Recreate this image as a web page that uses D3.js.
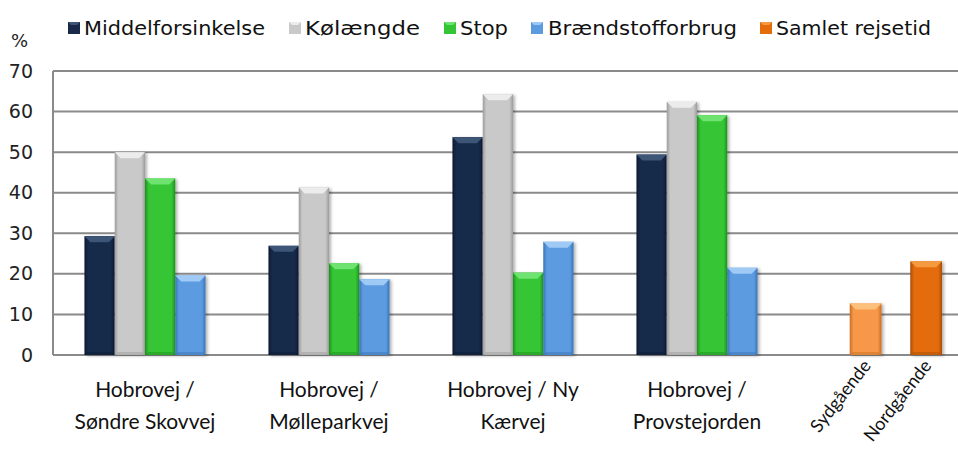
<!DOCTYPE html>
<html><head><meta charset="utf-8">
<script src="https://cdn.jsdelivr.net/npm/d3@7"></script>
<style>body{margin:0;background:#fff}svg{display:block}</style>
</head><body><svg id="c" width="958" height="450"></svg>
<script>
const categories = ["Hobrovej / Søndre Skovvej","Hobrovej / Mølleparkvej","Hobrovej / Ny Kærvej","Hobrovej / Provstejorden","Samlet rejsetid"];
const catLines = [["Hobrovej /","Søndre Skovvej"],["Hobrovej /","Mølleparkvej"],["Hobrovej / Ny","Kærvej"],["Hobrovej /","Provstejorden"]];
const seriesNames = ["Middelforsinkelse","Kølængde","Stop","Brændstofforbrug","Samlet rejsetid"];
const middelforsinkelse = [29.3, 26.9, 53.7, 49.4];
const kolaengde = [50.0, 41.3, 64.3, 62.4];
const stop = [43.5, 22.6, 20.3, 59.1];
const braendstof = [19.6, 18.7, 27.9, 21.5];
const rejseLabels = ["Sydgående","Nordgående"];
const rejsetid = [12.7, 23.1];
const yTicks = [0,10,20,30,40,50,60,70];

const colors = {
  "Middelforsinkelse": ["#18294a","#3d5677","#0c1a33"],
  "Kølængde": ["#c9c9c9","#ececec","#9c9c9c"],
  "Stop": ["#34c534","#6fe36f","#1f8f1f"],
  "Brændstofforbrug": ["#5c9be0","#9fcaf5","#3a73b5"],
  "Sydgående": ["#f7984a","#fcc07a","#c86e22"],
  "Nordgående": ["#e46c0a","#f59a40","#a84d05"]
};

const svg = d3.select("#c");
const y = d3.scaleLinear().domain([0,70]).range([355,71]);
const x0 = d3.scaleBand().domain(categories).range([53,973]).paddingInner(0.342).paddingOuter(0.171);
const x1 = d3.scaleBand().domain([0,1,2,3]).range([0,x0.bandwidth()]);

// gridlines
svg.append("g").selectAll("line").data(yTicks).join("line")
  .attr("x1",53).attr("x2",958).attr("y1",d=>y(d)).attr("y2",d=>y(d))
  .attr("stroke","#8a8a8a").attr("stroke-width",2);
svg.append("line").attr("x1",53).attr("x2",53).attr("y1",y(70)).attr("y2",y(0))
  .attr("stroke","#8a8a8a").attr("stroke-width",2);

// y axis labels
const yAxis = d3.axisLeft(y).tickValues(yTicks).tickSize(0).tickPadding(0);
const ya = svg.append("g").attr("transform","translate(33,0)").call(yAxis);
ya.select(".domain").remove();
ya.selectAll("text").attr("font-family","'DejaVu Sans', sans-serif").attr("font-size",19).attr("fill","#222");
svg.append("text").attr("x",11).attr("y",47).text("%").attr("font-family","'DejaVu Sans', sans-serif").attr("font-size",18).attr("fill","#222");

// bars
const bars = [];
const sers = [middelforsinkelse,kolaengde,stop,braendstof];
sers.forEach((arr,si)=>{
  arr.forEach((v,ci)=>{
    bars.push({x:x0(categories[ci])+x1(si), w:x1.bandwidth(), v, c:colors[seriesNames[si]]});
  });
});
rejsetid.forEach((v,i)=>{
  bars.push({x:x0(categories[4])+x1(i*2+1)-1, w:x1.bandwidth()+1.5, v, c:colors[rejseLabels[i]]});
});

const defs = svg.append("defs");
bars.forEach((b,i)=>{
  const g = defs.append("linearGradient").attr("id","g"+i).attr("x1","0").attr("x2","1").attr("y1","0").attr("y2","0");
  g.append("stop").attr("offset","0").attr("stop-color",b.c[2]);
  g.append("stop").attr("offset","0.12").attr("stop-color",b.c[0]);
  g.append("stop").attr("offset","0.88").attr("stop-color",b.c[0]);
  g.append("stop").attr("offset","1").attr("stop-color",b.c[2]);
});
const f = defs.append("filter").attr("id","sh").attr("x","-20%").attr("y","-10%").attr("width","150%").attr("height","130%");
f.append("feDropShadow").attr("dx",2).attr("dy",1).attr("stdDeviation",1.5).attr("flood-color","#000").attr("flood-opacity",0.3);

const bg = svg.append("g");
bars.forEach((b,i)=>{
  const top = y(b.v), bot = y(0), x = b.x, w = b.w, bv = 6;
  const g = bg.append("g");
  g.append("rect").attr("x",x).attr("y",top).attr("width",w).attr("height",bot-top)
    .attr("fill",`url(#g${i})`).attr("filter","url(#sh)");
  g.append("polygon").attr("points",[[x,top],[x+w,top],[x+w-bv,top+bv],[x+bv,top+bv]].map(p=>p.join(",")).join(" "))
    .attr("fill",b.c[1]);
  g.append("polygon").attr("points",[[x,bot],[x+w,bot],[x+w-3,bot-3],[x+3,bot-3]].map(p=>p.join(",")).join(" "))
    .attr("fill",b.c[2]).attr("opacity",0.5);
});

// x labels
const xl = svg.append("g").attr("font-family","Lato, sans-serif").attr("font-size",21).attr("fill","#111").attr("text-anchor","middle");
catLines.forEach((lines,ci)=>{
  const cx = x0(categories[ci]) + x0.bandwidth()/2;
  lines.forEach((t,li)=>{
    xl.append("text").attr("x",cx).attr("y",397+li*32).text(t);
  });
});
rejseLabels.forEach((t,i)=>{
  const cx = x0(categories[4])+x1(i*2+1)+x1.bandwidth()/2+6;
  xl.append("text").attr("text-anchor","end").attr("transform",`translate(${cx},366) rotate(-52)`).attr("font-size",18).text(t);
});

// legend
const legendItems = [
  {name:"Middelforsinkelse", mx:68, tx:84, tw:181, c:colors["Middelforsinkelse"]},
  {name:"Kølængde", mx:289, tx:305, tw:115, c:colors["Kølængde"]},
  {name:"Stop", mx:444, tx:460, tw:48, c:colors["Stop"]},
  {name:"Brændstofforbrug", mx:531, tx:548, tw:189, c:colors["Brændstofforbrug"]},
  {name:"Samlet rejsetid", mx:760, tx:776, tw:155, c:colors["Nordgående"]}
];
const lg = svg.append("g");
legendItems.forEach(d=>{
  lg.append("rect").attr("x",d.mx).attr("y",22).attr("width",12).attr("height",12).attr("fill",d.c[0]);
  lg.append("polygon").attr("points",`${d.mx},22 ${d.mx+12},22 ${d.mx+9},25 ${d.mx+3},25`).attr("fill",d.c[1]);
  lg.append("text").attr("x",d.tx).attr("y",35).text(d.name)
    .attr("font-family","'DejaVu Sans', sans-serif").attr("font-size",19).attr("fill","#111")
    .attr("textLength",d.tw).attr("lengthAdjust","spacingAndGlyphs");
});
</script></body></html>
